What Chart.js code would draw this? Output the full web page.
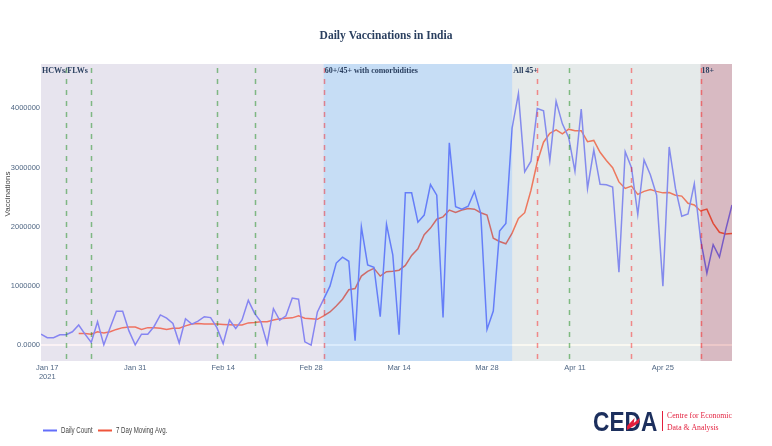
<!DOCTYPE html>
<html>
<head>
<meta charset="utf-8">
<script src="https://cdn.jsdelivr.net/npm/chart.js@4.4.1/dist/chart.umd.min.js"></script>
<style>
  html, body { margin: 0; padding: 0; background: #fff; }
</style>
</head>
<body>
<canvas id="myChart" width="772" height="446"></canvas>
<script>
// daily doses from 16 Jan 2021 (day 0) to 6 May 2021 (day 110)
const dailyCount = [
  190000, 130000, 130000, 180000, 180000, 230000, 345000, 190000, 50000, 400000,
  10000, 300000, 575000, 575000, 245000, 10000, 190000, 190000, 320000, 515000,
  460000, 370000, 40000, 450000, 360000, 410000, 485000, 470000, 300000, 30000,
  430000, 285000, 430000, 760000, 540000, 400000, 30000, 620000, 425000, 500000,
  800000, 780000, 60000, 5000, 565000, 780000, 1000000, 1390000, 1490000, 1420000,
  80000, 2000000, 1360000, 1320000, 485000, 2045000, 1530000, 180000, 2575000, 2575000,
  2080000, 2200000, 2715000, 2535000, 470000, 3420000, 2340000, 2300000, 2350000, 2600000,
  2230000, 270000, 580000, 1930000, 2060000, 3670000, 4250000, 2930000, 3110000, 4000000,
  3960000, 3120000, 4120000, 3740000, 3510000, 2940000, 3990000, 2650000, 3300000, 2720000,
  2710000, 2675000, 1235000, 3270000, 3000000, 2210000, 3130000, 2880000, 2535000, 1000000,
  3350000, 2650000, 2180000, 2220000, 2730000, 1790000, 1220000, 1700000, 1490000, 1950000,
  2370000
];

const movingAvg = [
  null, null, null, null, null, null, 200000, 200000, 190000, 230000,
  210000, 230000, 270000, 300000, 310000, 310000, 270000, 300000, 300000, 290000,
  270000, 290000, 290000, 330000, 360000, 370000, 360000, 360000, 360000, 355000,
  350000, 345000, 345000, 380000, 385000, 400000, 400000, 430000, 450000, 460000,
  465000, 500000, 460000, 450000, 440000, 500000, 565000, 665000, 780000, 940000,
  960000, 1170000, 1250000, 1300000, 1170000, 1245000, 1250000, 1270000, 1350000, 1520000,
  1630000, 1870000, 1980000, 2130000, 2170000, 2285000, 2245000, 2285000, 2310000, 2300000,
  2240000, 2200000, 1810000, 1755000, 1715000, 1895000, 2145000, 2240000, 2620000, 3095000,
  3430000, 3580000, 3640000, 3570000, 3650000, 3625000, 3625000, 3440000, 3460000, 3260000,
  3120000, 3000000, 2760000, 2650000, 2690000, 2550000, 2600000, 2630000, 2600000, 2575000,
  2580000, 2535000, 2520000, 2400000, 2370000, 2270000, 2300000, 2060000, 1910000, 1880000,
  1890000
];

const dayIndex = dailyCount.map((_, i) => i);

const tickDays = [1, 15, 29, 43, 57, 71, 85, 99];
const tickLabels = ["Jan 17", "Jan 31", "Feb 14", "Feb 28", "Mar 14", "Mar 28", "Apr 11", "Apr 25"];
const yTicks = [0, 1000000, 2000000, 3000000, 4000000];

const phaseNames = ["HCWs/FLWs", "60+/45+ with comorbidities", "All 45+", "18+"];
const phaseStart = [0, 45, 75, 105];
const phaseColors = ["rgba(241,204,214,0.25)", "rgba(109,176,242,0.25)", "rgba(233,228,198,0.25)", "rgba(181,36,38,0.25)"];

const greenLineDays = [4, 8, 28, 34, 84];
const redLineDays = [45, 79, 94, 105];

const sans = "'Liberation Sans', Arial, sans-serif";
const serif = "'Liberation Serif', 'Times New Roman', serif";
const tickFont = { family: sans, size: 7.5 };

const phasesPlugin = {
  id: "phases",
  beforeDraw(chart) {
    const { ctx, chartArea: a } = chart;
    ctx.save();
    ctx.fillStyle = "#e5ecf6";
    ctx.fillRect(a.left, a.top, a.right - a.left, a.bottom - a.top);
    ctx.restore();
  },
  afterDatasetsDraw(chart) {
    const { ctx, chartArea: a, scales } = chart;
    const x = scales.x;
    ctx.save();
    // phase bands, drawn over the lines
    phaseStart.forEach((s, i) => {
      const x0 = x.getPixelForValue(s);
      const x1 = i < phaseStart.length - 1 ? x.getPixelForValue(phaseStart[i + 1]) : a.right;
      ctx.fillStyle = phaseColors[i];
      ctx.fillRect(x0, a.top, x1 - x0, a.bottom - a.top);
    });
    // dashed markers
    ctx.lineWidth = 1.5;
    ctx.setLineDash([5, 6]);
    const vline = (d, col) => {
      const px = Math.round(x.getPixelForValue(d)) + 0.5;
      ctx.strokeStyle = col;
      ctx.beginPath();
      ctx.moveTo(px, a.top + 4);
      ctx.lineTo(px, a.bottom);
      ctx.stroke();
    };
    greenLineDays.forEach(d => vline(d, "rgba(0,128,0,0.45)"));
    redLineDays.forEach(d => vline(d, "rgba(255,0,0,0.42)"));
    ctx.setLineDash([]);
    // phase names
    ctx.fillStyle = "#2a3f5f";
    ctx.font = "bold 8px " + serif;
    ctx.textBaseline = "middle";
    ctx.textAlign = "left";
    phaseNames.forEach((n, i) => {
      ctx.fillText(n, x.getPixelForValue(phaseStart[i]) + 1, a.top + 7);
    });
    ctx.restore();
  },
  afterDraw(chart) {
    const ctx = chart.ctx;
    ctx.save();
    // title
    ctx.fillStyle = "#2a3f5f";
    ctx.font = "bold 11.5px " + serif;
    ctx.textAlign = "center";
    ctx.textBaseline = "middle";
    ctx.fillText("Daily Vaccinations in India", 386, 36);
    // y axis title
    ctx.save();
    ctx.translate(8, 194);
    ctx.rotate(-Math.PI / 2);
    ctx.fillStyle = "#444";
    ctx.font = "8px " + sans;
    ctx.fillText("Vaccinations", 0, 0);
    ctx.restore();
    // legend
    ctx.textAlign = "left";
    const items = [["Daily Count", "#636efa", 43], ["7 Day Moving Avg.", "#ef553b", 98]];
    items.forEach(([txt, col, x0]) => {
      ctx.strokeStyle = col;
      ctx.lineWidth = 2;
      ctx.beginPath();
      ctx.moveTo(x0, 430.5);
      ctx.lineTo(x0 + 14, 430.5);
      ctx.stroke();
      ctx.save();
      ctx.translate(x0 + 18, 431);
      ctx.scale(0.72, 1);
      ctx.fillStyle = "#444";
      ctx.font = "8.5px " + sans;
      ctx.fillText(txt, 0, 0);
      ctx.restore();
    });
    // CEDA logo
    ctx.save();
    ctx.translate(593, 431);
    ctx.scale(0.84, 1);
    ctx.font = "bold 27px " + sans;
    ctx.textBaseline = "alphabetic";
    ctx.fillStyle = "#1c2f5d";
    ctx.fillText("CEDA", 0, 0);
    const dx = ctx.measureText("CE").width;
    ctx.fillStyle = "#e31e3c";
    ctx.beginPath();
    ctx.moveTo(dx + 3, -5);
    ctx.lineTo(dx + 12, -13);
    ctx.lineTo(dx + 11, -8);
    ctx.lineTo(dx + 18, -13);
    ctx.lineTo(dx + 17, -8);
    ctx.lineTo(dx + 3, -1);
    ctx.closePath();
    ctx.fill();
    ctx.restore();
    ctx.strokeStyle = "#e31e3c";
    ctx.lineWidth = 1;
    ctx.beginPath();
    ctx.moveTo(662.5, 411);
    ctx.lineTo(662.5, 431);
    ctx.stroke();
    ctx.save();
    ctx.translate(667, 0);
    ctx.scale(0.86, 1);
    ctx.fillStyle = "#e31e3c";
    ctx.font = "9px " + serif;
    ctx.textBaseline = "alphabetic";
    ctx.fillText("Centre for Economic", 0, 417.5);
    ctx.fillText("Data & Analysis", 0, 429.5);
    ctx.restore();
    ctx.restore();
  }
};

new Chart(document.getElementById("myChart"), {
  type: "line",
  data: {
    labels: dayIndex,
    datasets: [
      {
        label: "Daily Count",
        data: dailyCount,
        borderColor: "#636efa",
        borderWidth: 1.5,
        pointRadius: 0,
        tension: 0,
      },
      {
        label: "7 Day Moving Avg.",
        data: movingAvg,
        borderColor: "#ef553b",
        borderWidth: 1.5,
        pointRadius: 0,
        tension: 0,
      },
    ],
  },
  options: {
    responsive: false,
    animation: false,
    layout: { padding: { left: 0, right: 40, top: 64, bottom: 0 } },
    plugins: {
      legend: { display: false },
      tooltip: { enabled: false },
      title: { display: false },
    },
    scales: {
      x: {
        type: "linear",
        min: 0,
        max: 110,
        grid: { display: false, drawTicks: false },
        border: { display: false },
        afterBuildTicks: (s) => { s.ticks = tickDays.map(v => ({ value: v })); },
        afterFit: (s) => { s.height = 85; },
        ticks: {
          autoSkip: false,
          maxRotation: 0,
          padding: 2,
          color: "#506784",
          font: tickFont,
          callback: (v, i) => (i === 0 ? [tickLabels[0], "2021"] : tickLabels[i]),
        },
      },
      y: {
        min: -263000,
        max: 4750000,
        border: { display: false },
        grid: {
          drawTicks: false,
          lineWidth: 2,
          color: (c) => (c.tick && c.tick.value === 0 ? "#ffffff" : "rgba(0,0,0,0)"),
        },
        afterBuildTicks: (s) => { s.ticks = yTicks.map(v => ({ value: v })); },
        afterFit: (s) => { s.width = 41; },
        ticks: {
          padding: 1,
          color: "#506784",
          font: tickFont,
          callback: (v) => (v === 0 ? "0.0000" : String(v)),
        },
      },
    },
  },
  plugins: [phasesPlugin],
});
</script>
</body>
</html>
